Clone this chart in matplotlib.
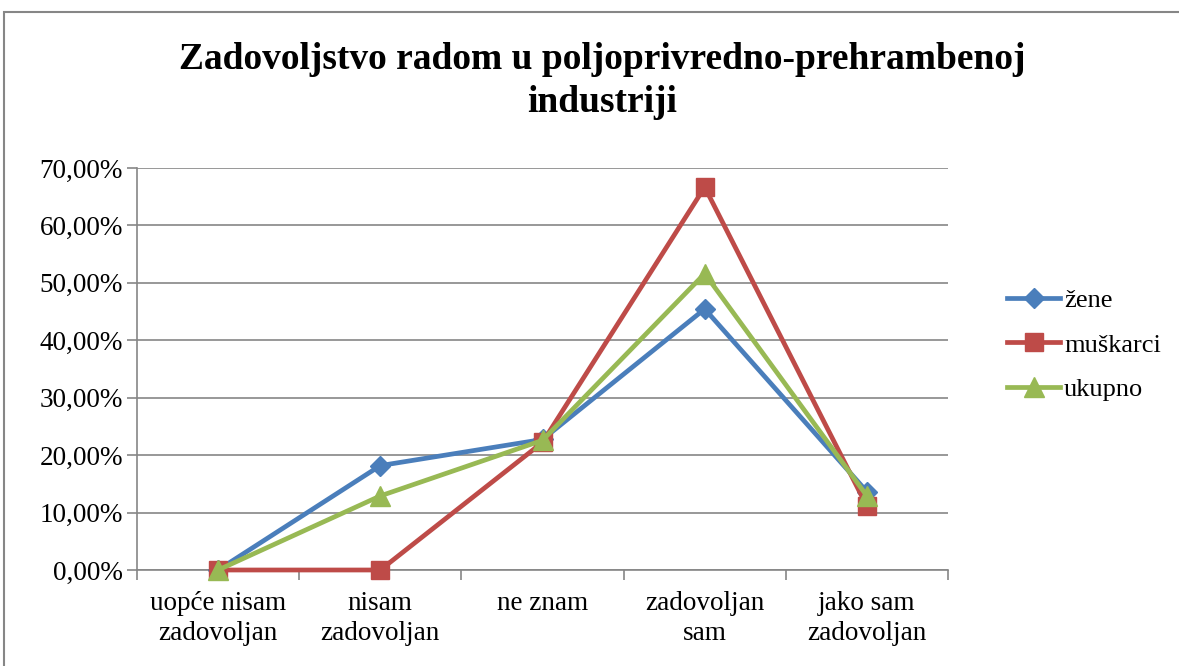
import matplotlib
matplotlib.use("Agg")
import matplotlib.pyplot as plt
from matplotlib.ticker import FuncFormatter, FixedLocator
from matplotlib.patches import Rectangle

categories = ["uopće nisam\nzadovoljan", "nisam\nzadovoljan", "ne znam", "zadovoljan\nsam", "jako sam\nzadovoljan"]
zene = [0.0, 18.18, 22.73, 45.45, 13.64]
muskarci = [0.0, 0.0, 22.22, 66.67, 11.11]
ukupno = [0.0, 12.90, 22.58, 51.61, 12.90]
series_names = ["žene", "muškarci", "ukupno"]
title = "Zadovoljstvo radom u poljoprivredno-prehrambenoj\nindustriji"

plt.rcParams['font.family'] = ['Liberation Serif', 'DejaVu Serif']

fig = plt.figure(figsize=(11.79, 6.66), dpi=100)
ax = fig.add_axes([137/1179, 1-570/666, (948-137)/1179, (570-168)/666])

# outer chart border
fig.patches.append(Rectangle((4/1179, -0.01), 1.2, (666-12)/666 + 0.01, transform=fig.transFigure,
                             fill=False, edgecolor='#868686', linewidth=1.5))

x = list(range(len(categories)))
ax.plot(x, zene, color='#4A7EBB', lw=3.4, marker='D', ms=10, label=series_names[0], zorder=3, clip_on=False)
ax.plot(x, muskarci, color='#BE4B48', lw=3.4, marker='s', ms=13, label=series_names[1], zorder=3, clip_on=False)
ax.plot(x, ukupno, color='#98B954', lw=3.4, marker='^', ms=14, label=series_names[2], zorder=4, clip_on=False)

ax.set_xlim(-0.5, 4.5)
ax.set_ylim(0, 70)
ax.set_yticks(range(0, 71, 10))
ax.yaxis.set_major_formatter(FuncFormatter(lambda v, p: f"{v:.2f}".replace('.', ',') + "%"))
ax.grid(axis='y', color='#868686', lw=1.2)
ax.set_axisbelow(True)

ax.set_xticks(x)
ax.set_xticklabels(categories, fontsize=19.5, linespacing=1.25)
ax.tick_params(axis='x', length=0, pad=15)
ax.xaxis.set_minor_locator(FixedLocator([i - 0.5 for i in range(len(categories) + 1)]))
ax.tick_params(axis='x', which='minor', length=7, color='#868686', width=1.2)
ax.tick_params(axis='y', labelsize=19.5, length=7, color='#868686', width=1.2, pad=3)

for s in ['top', 'right']:
    ax.spines[s].set_visible(False)
for s in ['left', 'bottom']:
    ax.spines[s].set_color('#868686')
    ax.spines[s].set_linewidth(1.2)

fig.text(0.5 * (178 + 1027) / 1179, 1 - 81/666, title, ha='center', va='center',
         fontsize=27, fontweight='bold', linespacing=1.3)

leg = ax.legend(loc='center left', bbox_to_anchor=(1.044, 0.56), frameon=False, fontsize=19,
                labelspacing=0.8, handlelength=2.0, handletextpad=0.15)

fig.savefig("out.png", dpi=100)
